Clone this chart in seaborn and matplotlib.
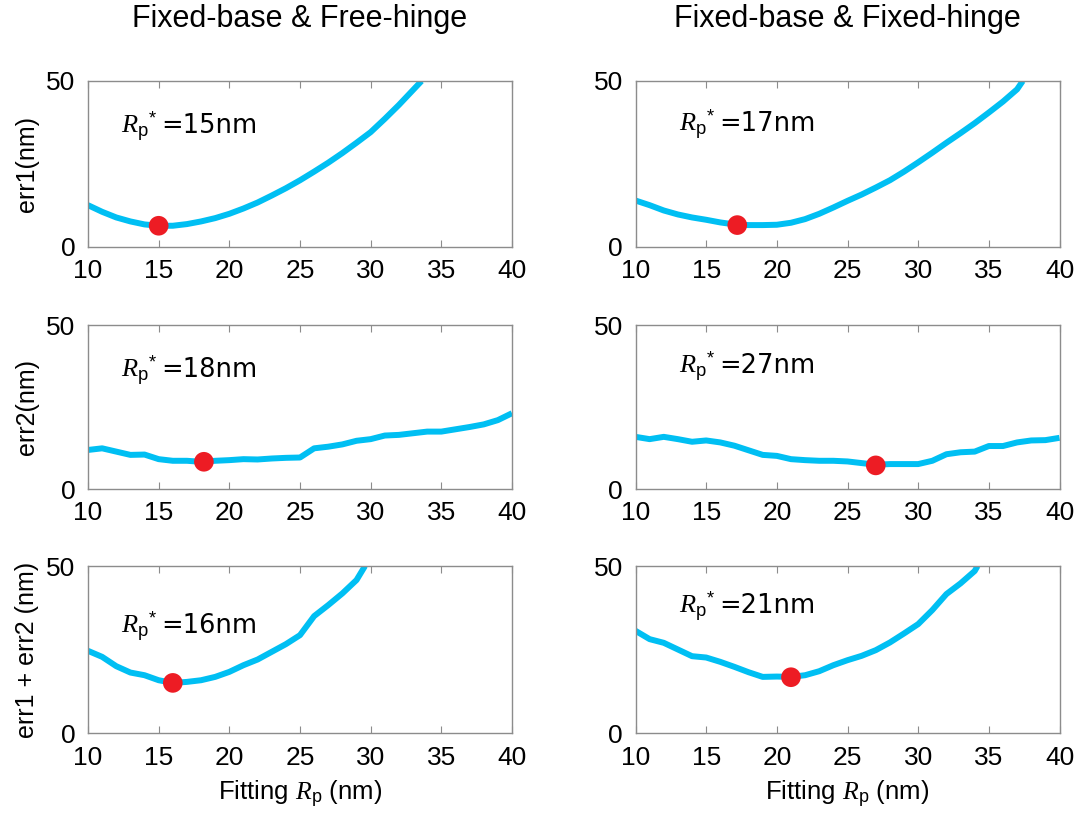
import numpy as np
import pandas as pd
import matplotlib
matplotlib.use("Agg")
import matplotlib.pyplot as plt
import seaborn as sns

# ---------------- data ----------------
col_titles = ["Fixed-base & Free-hinge", "Fixed-base & Fixed-hinge"]
row_ylabels = ["err1(nm)", "err2(nm)", "err1 + err2 (nm)"]
x_label = "Fitting $\\mathit{R}_{\\mathrm{p}}$ (nm)"
x_ticks = [10, 15, 20, 25, 30, 35, 40]
y_ticks = [0, 50]

# top-left: err1, free hinge
x_err1_free = [10, 11, 12, 13, 14, 15, 16, 17, 18, 19, 20, 21, 22, 23, 24, 25,
               26, 27, 28, 29, 30, 31, 32, 33, 33.6]
y_err1_free = [12.6, 10.6, 8.9, 7.7, 6.8, 6.4, 6.4, 6.9, 7.7, 8.7, 10.0, 11.6,
               13.4, 15.5, 17.7, 20.1, 22.7, 25.4, 28.3, 31.4, 34.6, 38.6,
               42.8, 47.3, 50.0]
# top-right: err1, fixed hinge
x_err1_fixed = [10, 11, 12, 13, 14, 15, 16, 17, 18, 19, 20, 21, 22, 23, 24, 25,
                26, 27, 28, 29, 30, 31, 32, 33, 34, 35, 36, 37, 37.4]
y_err1_fixed = [14.0, 12.6, 11.0, 9.8, 8.9, 8.2, 7.4, 6.8, 6.6, 6.6, 6.7, 7.3,
                8.4, 10.0, 11.9, 13.9, 15.8, 17.9, 20.1, 22.7, 25.5, 28.4,
                31.4, 34.3, 37.3, 40.5, 43.8, 47.5, 50.0]
# middle-left: err2, free hinge
x_err2_free = [10, 11, 12, 13, 14, 15, 16, 17, 18, 19, 20, 21, 22, 23, 24, 25,
               26, 27, 28, 29, 30, 31, 32, 33, 34, 35, 36, 37, 38, 39, 40]
y_err2_free = [11.9, 12.4, 11.4, 10.4, 10.5, 9.1, 8.6, 8.6, 8.3, 8.6, 8.8, 9.1,
               9.0, 9.3, 9.5, 9.6, 12.4, 12.9, 13.6, 14.7, 15.2, 16.3, 16.5,
               17.0, 17.5, 17.5, 18.2, 18.9, 19.7, 21.0, 23.1]
# middle-right: err2, fixed hinge
x_err2_fixed = [10, 11, 12, 13, 14, 15, 16, 17, 18, 19, 20, 21, 22, 23, 24, 25,
                26, 27, 28, 29, 30, 31, 32, 33, 34, 35, 36, 37, 38, 39, 40]
y_err2_fixed = [15.9, 15.2, 15.9, 15.2, 14.4, 14.8, 14.2, 13.2, 11.8, 10.4,
                10.1, 9.1, 8.8, 8.6, 8.6, 8.4, 7.9, 7.4, 7.6, 7.6, 7.6, 8.6,
                10.6, 11.2, 11.4, 13.1, 13.1, 14.2, 14.8, 14.9, 15.6]
# bottom-left: err1 + err2, free hinge
x_sum_free = [10, 11, 12, 13, 14, 15, 16, 17, 18, 19, 20, 21, 22, 23, 24, 25,
              26, 27, 28, 29, 29.6]
y_sum_free = [24.6, 22.8, 20.0, 18.1, 17.3, 15.8, 15.0, 15.3, 15.8, 16.8, 18.3,
              20.3, 22.0, 24.3, 26.6, 29.3, 35.0, 38.3, 41.8, 45.8, 50.0]
# bottom-right: err1 + err2, fixed hinge
x_sum_fixed = [10, 11, 12, 13, 14, 15, 16, 17, 18, 19, 20, 21, 22, 23, 24, 25,
               26, 27, 28, 29, 30, 31, 32, 33, 34, 34.2]
y_sum_fixed = [30.6, 28.1, 27.0, 25.0, 23.0, 22.6, 21.3, 19.8, 18.2, 16.8, 16.9,
               16.8, 17.3, 18.5, 20.3, 21.8, 23.1, 24.8, 27.1, 29.8, 32.6,
               36.8, 41.6, 44.8, 48.5, 50.0]

# optimum points (R_p*)
opt_x = [15.0, 17.2, 18.2, 27.0, 16.0, 21.0]
opt_y = [6.4, 6.6, 8.3, 7.2, 15.0, 16.7]
opt_labels = ["15nm", "17nm", "18nm", "27nm", "16nm", "21nm"]

curves_x = [x_err1_free, x_err1_fixed, x_err2_free, x_err2_fixed, x_sum_free, x_sum_fixed]
curves_y = [y_err1_free, y_err1_fixed, y_err2_free, y_err2_fixed, y_sum_free, y_sum_fixed]

# ---------------- style ----------------
sns.set_style("white")
plt.rcParams["font.family"] = ["Liberation Sans", "DejaVu Sans"]
plt.rcParams["text.color"] = "black"
plt.rcParams["axes.labelcolor"] = "black"
plt.rcParams["xtick.color"] = "black"
plt.rcParams["ytick.color"] = "black"
plt.rcParams["mathtext.fontset"] = "custom"
plt.rcParams["mathtext.rm"] = "Liberation Sans"
plt.rcParams["mathtext.it"] = "Liberation Serif:italic"
plt.rcParams["mathtext.bf"] = "Liberation Sans:bold"

line_color = "#00BFF3"
dot_color = "#ED1C24"
frame_color = "#8C8C8C"

fig = plt.figure(figsize=(10.81, 8.13), dpi=100)
W, H = 1081.0, 813.0

col_left_px = [88.0, 635.5]
ax_w_px = 424.0
row_px = [(81.0, 247.0), (325.0, 489.0), (566.0, 733.0)]

# annotation positions (data coords: x start, baseline y)
ann_pos = [(12.3, 34.4), (13.1, 34.8), (12.3, 34.2), (13.1, 35.3), (12.3, 29.8), (13.1, 35.8)]

for r in range(3):
    top_px, bot_px = row_px[r]
    for c in range(2):
        i = r * 2 + c
        left = col_left_px[c] / W
        bottom = (H - bot_px) / H
        ax = fig.add_axes([left, bottom, ax_w_px / W, (bot_px - top_px) / H])
        df = pd.DataFrame({"x": curves_x[i], "y": curves_y[i]})
        sns.lineplot(data=df, x="x", y="y", ax=ax, color=line_color,
                     linewidth=4.3, sort=False, estimator=None)
        for l in ax.lines:
            l.set_solid_capstyle("butt")
            l.set_solid_joinstyle("round")
        dfp = pd.DataFrame({"x": [opt_x[i]], "y": [opt_y[i]]})
        sns.scatterplot(data=dfp, x="x", y="y", ax=ax, color=dot_color,
                        s=200, edgecolor="none", zorder=5)
        ax.set_xlim(10, 40)
        ax.set_ylim(0, 50)
        ax.set_xticks(x_ticks)
        ax.set_yticks(y_ticks)
        ax.set_xlabel("")
        ax.set_ylabel("")
        ax.tick_params(axis="x", direction="in", length=5, width=0.8,
                       color=frame_color, labelsize=19, pad=9,
                       top=True, bottom=True, labelcolor="black")
        ax.tick_params(axis="y", direction="in", length=0, width=0.8,
                       color=frame_color, labelsize=19, pad=9,
                       labelcolor="black")
        for s in ax.spines.values():
            s.set_visible(True)
            s.set_color(frame_color)
            s.set_linewidth(1.0)
        ax.text(ann_pos[i][0], ann_pos[i][1],
                "$\\mathit{R}_{\\mathrm{p}}{}^{*}$", fontsize=19,
                ha="left", va="baseline")
        ax.annotate("=" + opt_labels[i], xy=(ann_pos[i][0], ann_pos[i][1]),
                    xycoords="data", xytext=(29, 0), textcoords="offset points",
                    fontsize=18.5, family=["DejaVu Sans"], ha="left", va="baseline")
        if r == 2:
            cx = (col_left_px[c] + ax_w_px / 2) / W
            fig.text(cx, 1 - 800 / H, x_label, fontsize=18.5, ha="center", va="baseline")
        if c == 0:
            cy = 1 - ((top_px + bot_px) / 2) / H
            fig.text(27 / W, cy, row_ylabels[r], fontsize=18, rotation=90,
                     ha="center", va="center")
        if r == 0:
            cx = (col_left_px[c] + ax_w_px / 2) / W
            fig.text(cx, 1 - 27 / H, col_titles[c], fontsize=22, ha="center", va="baseline")

fig.savefig("out.png", dpi=100)
